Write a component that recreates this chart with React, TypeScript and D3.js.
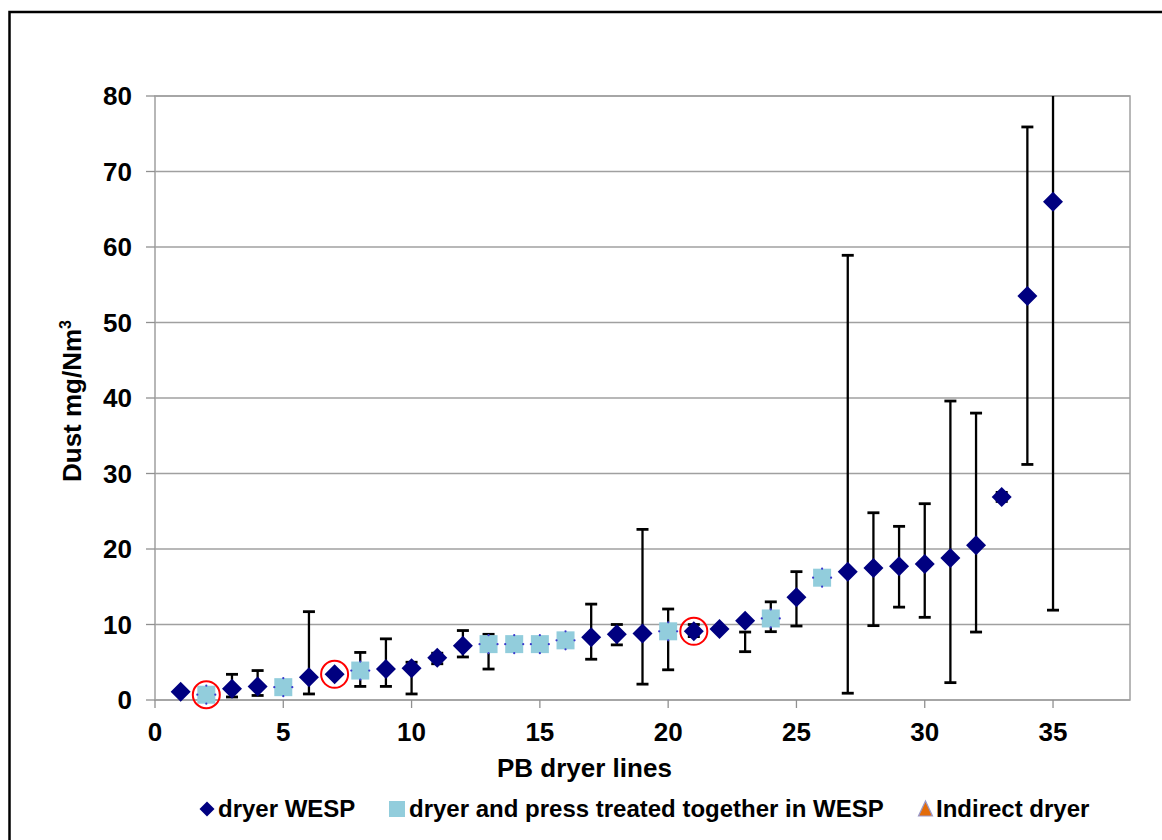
import React from "react";
import * as d3 from "d3";

// ---- data ----
const lines = [1,2,3,4,5,6,7,8,9,10,11,12,13,14,15,16,17,18,19,20,21,22,23,24,25,26,27,28,29,30,31,32,33,34,35];
const dust = [1.1,0.7,1.5,1.8,1.7,3.0,3.4,3.9,4.1,4.2,5.6,7.2,7.4,7.4,7.4,7.9,8.3,8.7,8.8,9.1,9.1,9.4,10.5,10.8,13.6,16.2,17.0,17.5,17.7,18.0,18.8,20.5,26.9,53.5,66.0];
// series: D = dryer WESP, S = dryer and press treated together in WESP
const series = ["D","S","D","D","S","D","D","S","D","D","D","D","S","S","S","S","D","D","D","S","D","D","D","S","D","S","D","D","D","D","D","D","D","D","D"];
const errLow = [null,null,0.4,0.6,1.2,0.8,null,1.8,1.8,0.8,4.8,5.7,4.1,null,null,null,5.4,7.3,2.1,4.0,8.4,null,6.4,9.05,9.8,null,0.9,9.85,12.3,10.95,2.3,9.0,26.3,31.2,11.9];
const errHigh = [null,null,3.4,3.9,2.4,11.7,null,6.3,8.1,5.0,6.2,9.2,8.7,null,null,null,12.7,10.0,22.6,12.05,10.0,null,9.0,13.0,17.0,null,58.9,24.8,23.0,26.0,39.6,38.0,27.5,75.9,100];
const circled = [2, 7, 21];
const xTicks = [0,5,10,15,20,25,30,35];
const yTicks = [0,10,20,30,40,50,60,70,80];
const legendItems = ["dryer WESP", "dryer and press treated together in WESP", "Indirect dryer"];

const NAVY = "#000080";
const LIGHT = "#92CDDC";
const FONT = "'Liberation Sans', Arial, Helvetica, sans-serif";

export default function App() {
  const left = 155, right = 1130, top = 96, bottom = 700;
  const x = d3.scaleLinear().domain([0, 38]).range([left, right]);
  const y = d3.scaleLinear().domain([0, 80]).range([bottom, top]);
  const dh = 10; // diamond half-diagonal
  const sq = 18;
  const cap = 6;

  const diamond = (cx: number, cy: number, h: number) =>
    `M${cx},${cy - h}L${cx + h},${cy}L${cx},${cy + h}L${cx - h},${cy}Z`;

  return (
    <svg width={1162} height={840} style={{ position: "absolute", left: 0, top: 0, background: "#fff" }} fontFamily={FONT}>
      <defs>
        <clipPath id="plotClip">
          <rect x={left} y={top} width={right - left} height={bottom - top} />
        </clipPath>
      </defs>
      <rect x={0} y={0} width={1162} height={840} fill="#fff" />
      {/* outer frame */}
      <rect x={9.5} y={12} width={1300} height={1000} fill="none" stroke="#000" strokeWidth={2.5} />

      {/* gridlines */}
      {yTicks.map((t) => (
        <line key={"g" + t} x1={left} x2={right} y1={y(t)} y2={y(t)} stroke="#a0a0a0" strokeWidth={1.3} />
      ))}
      {/* plot border */}
      <rect x={left} y={top} width={right - left} height={bottom - top} fill="none" stroke="#a0a0a0" strokeWidth={1.5} />

      {/* y ticks and labels */}
      {yTicks.map((t) => (
        <g key={"y" + t}>
          <line x1={left - 9} x2={left} y1={y(t)} y2={y(t)} stroke="#909090" strokeWidth={1.3} />
          <text x={132} y={y(t)} dy="0.36em" textAnchor="end" fontSize={26} fontWeight="bold">{t}</text>
        </g>
      ))}
      {/* x ticks and labels */}
      {xTicks.map((t) => (
        <g key={"x" + t}>
          <line x1={x(t)} x2={x(t)} y1={bottom} y2={bottom + 8} stroke="#909090" strokeWidth={1.3} />
          <text x={x(t)} y={741} textAnchor="middle" fontSize={26} fontWeight="bold">{t}</text>
        </g>
      ))}

      {/* axis titles */}
      <text x={497} y={777} fontSize={26} fontWeight="bold">PB dryer lines</text>
      <text transform="translate(81,401) rotate(-90)" textAnchor="middle" fontSize={26} fontWeight="bold">
        Dust mg/Nm<tspan dy={-10} fontSize={16}>3</tspan>
      </text>

      {/* error bars */}
      <g clipPath="url(#plotClip)" stroke="#000" strokeWidth={2.3}>
        {lines.map((l, i) => {
          const lo = errLow[i], hi = errHigh[i];
          if (lo == null || hi == null) return null;
          const cx = x(l);
          return (
            <g key={"e" + l}>
              <line x1={cx} x2={cx} y1={y(lo)} y2={y(hi)} />
              <line x1={cx - cap} x2={cx + cap} y1={y(lo)} y2={y(lo)} strokeWidth={2.8} />
              <line x1={cx - cap} x2={cx + cap} y1={y(hi)} y2={y(hi)} strokeWidth={2.8} />
            </g>
          );
        })}
      </g>

      {/* markers */}
      {lines.map((l, i) => {
        const cx = x(l), cy = y(dust[i]);
        if (series[i] === "D") {
          return <path key={"m" + l} d={diamond(cx, cy, dh)} fill={NAVY} />;
        }
        return (
          <g key={"m" + l}>
            <rect x={cx - sq / 2} y={cy - sq / 2} width={sq} height={sq} fill={LIGHT} />
            {[[0, -sq / 2], [0, sq / 2], [-sq / 2, 0], [sq / 2, 0]].map(([dx, dy], k) => (
              <circle key={k} cx={cx + dx} cy={cy + dy} r={1.1} fill="#3a3acc" />
            ))}
          </g>
        );
      })}

      {/* red circles */}
      {circled.map((l) => {
        const i = lines.indexOf(l);
        return <circle key={"c" + l} cx={x(l)} cy={y(dust[i])} r={13.5} fill="none" stroke="#ff0000" strokeWidth={2} />;
      })}

      {/* legend */}
      <g>
        <path d={diamond(207, 809, 7.5)} fill={NAVY} />
        <text x={218} y={817} fontSize={24} fontWeight="bold">{legendItems[0]}</text>
        <rect x={389} y={801} width={16} height={16} fill={LIGHT} />
        <text x={409} y={817} fontSize={24} fontWeight="bold">{legendItems[1]}</text>
        <path d="M925.5,801L932.5,816L918.5,816Z" fill="#E36C0A" stroke="#9999CC" strokeWidth={1.2} />
        <text x={936} y={817} fontSize={24} fontWeight="bold">{legendItems[2]}</text>
      </g>
    </svg>
  );
}
